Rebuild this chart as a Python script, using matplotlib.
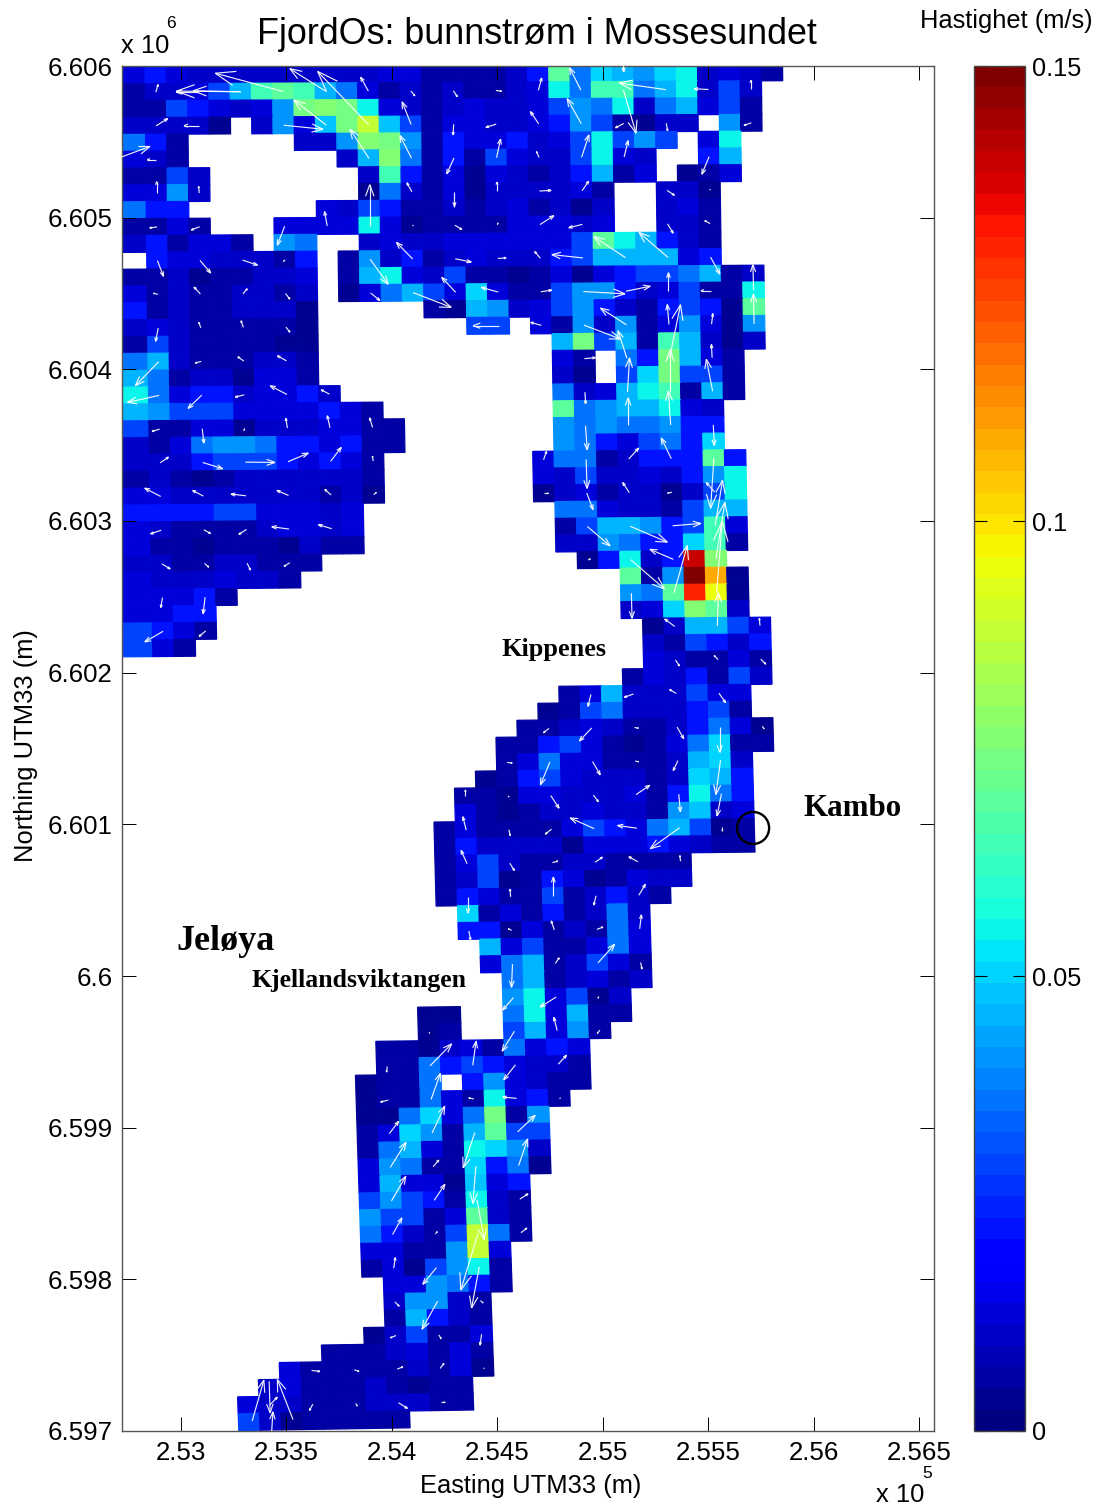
import numpy as np
import matplotlib
matplotlib.use('Agg')
import matplotlib.pyplot as plt
from matplotlib.collections import LineCollection
from matplotlib.patches import Ellipse

plt.rcParams['font.family'] = ['Liberation Sans', 'DejaVu Sans']

W, H = 1102, 1508

# speed levels, one char per cell, '.' = land. groups of ten columns
speed_rows = [
    "3432222222 2233111124 d6a87ab2321",
    "122358cdc8 6312121123 b6cc68b252",
    "11543237ef eb32123223 576b268351",
    "22220.2739 eh95133223 4751022.71",
    "641.....22 7fe7143342 35b575.3b",
    "321....... 28f6141532 25b32..48",
    "1152...... .2c4130321 24813.013",
    "3372...... .062130222 231..220",
    "644......3 2541121231 202..231",
    "1131...333 3b30111133 323..221",
    "241331.76. .232233333 35db8421",
    ".43322214. 1724123222 45888834",
    "112011223. 18b3251101 3034556812",
    "312112212. 036853a311 577423511b",
    "412112220. ....108723 574214540d",
    "232111110. ......55.3 1727137307",
    "152111100. .......... 8e581c8202",
    "682111221. .......... 31.64e831",
    "861220331. .......... 20.5ae551",
    "b634423342 .......... 6238bc181",
    "8755533334 31........ d6788b32",
    "5113302223 311....... 76766744",
    "2136776443 411....... 7643564a",
    "2224555434 31.......3 6612444d4",
    "1210122222 21.......3 25223247b",
    "3322222221 20.......0 23122025b",
    "4444553332 3......... 663221588",
    "3211112332 3......... 1588745c3",
    "3110111021 1......... 227644ac1",
    "221122111. .......... .04b24rf",
    "32223221.. .......... ...d17um0",
    "33341..... .......... ...76dqj0",
    "3344...... .......... ...23afd2",
    "5431...... .......... ....028853",
    "531....... .......... ....215424",
    ".......... .......... ....321131",
    ".......... .......... ...1324152",
    ".......... .......... 138222533",
    ".......... .........0 156222451",
    ".......... ........11 2321124630",
    ".......... .......114 5310136a11",
    ".......... .......136 3311128a2",
    ".......... ......0145 322212a84",
    ".......... .....11033 222314b64",
    ".......... .....31012 232217923",
    ".......... ....131111 354368501",
    ".......... ....142222 033343211",
    ".......... ....135211 221111",
    ".......... ....125014 301322",
    ".......... ....143115 12421",
    ".......... .....a1314 1262",
    ".......... .....44031 2163",
    ".......... ......8351 1363",
    ".......... ......3681 2531",
    ".......... .......681 2312",
    ".......... .......7b3 502",
    ".......... ...00..6b3 811",
    ".......... ...01..583 71",
    ".......... .110231634 3",
    ".......... .116454322 1",
    ".......... 0116.47321 1",
    ".......... 011631b341",
    ".......... 006a36e17",
    ".......... 13a718d55",
    ".......... 16831ba72",
    ".......... 37611a460",
    ".......... 38330934",
    ".......... 57541b21",
    ".......... 75513d21",
    ".......... 64215h61",
    ".......... 33117h3",
    ".......... 13057b1",
    ".......... .337641",
    ".......... .27721",
    ".......... .18421",
    ".......... 025113",
    "........11 123131",
    "......3111 112130",
    ".....23111 21011",
    "....322111 22211",
    "....520111 11",
]

# m/s for each level char
level_speed = {'0': 0.003, '1': 0.006, '2': 0.010, '3': 0.014, '4': 0.023, '5': 0.030,
               '6': 0.036, '7': 0.041, '8': 0.045, '9': 0.048, 'a': 0.050, 'b': 0.056,
               'c': 0.064, 'd': 0.069, 'e': 0.073, 'f': 0.077, 'h': 0.087, 'j': 0.096,
               'm': 0.108, 'q': 0.129, 'r': 0.140, 'u': 0.150}

# (col, row, east, north) of every second grid node, arrow lengths as read
arrows_north = [
    (23,-1,2,-47),
    (1,1,7,23),(3,1,-67,0),(5,1,-143,3),(5,1,-193,2),(7,1,-204,55),(9,1,-108,68),(11,1,-23,42),(13,1,12,-15),(15,1,12,-18),
    (17,1,17,-2),(19,1,10,37),(21,1,-34,67),(23,1,38,-130),(25,1,-140,20),(27,1,-43,2),(29,1,0,27),
    (1,3,35,22),(3,3,-44,0),(7,3,118,-12),(9,3,-97,75),(11,3,-153,160),(13,3,-27,68),(15,3,-2,-32),
    (17,3,-31,-10),(19,3,-25,37),(21,3,-42,75),(23,3,-25,-13),(25,3,4,-23),(29,3,-22,-8),
    (-1,5,108,40),(1,5,-27,0),(11,5,-57,88),(13,5,-35,68),(15,5,-22,-48),
    (17,5,12,56),(19,5,-8,18),(21,5,22,67),(23,5,12,49),(27,5,-22,-53),
    (1,7,0,35),(3,7,-2,20),(13,7,-15,27),(15,7,0,-45),(17,7,0,28),(19,7,35,2),(21,7,20,29),(25,7,22,-15),(27,7,2,2),
    (1,9,-22,-3),(3,9,-25,-10),(7,9,-22,-57),(9,9,-8,43),(11,9,0,123),(13,9,2,0),(15,9,21,-13),
    (17,9,2,6),(19,9,42,27),(21,9,-41,-10),(25,9,17,-28),(27,9,-16,9),
    (1,11,18,-47),(3,11,32,-38),(5,11,45,-15),(7,11,-5,-5),(11,11,54,-75),(13,11,-49,50),(15,11,48,-10),
    (17,11,25,2),(19,11,-17,20),(21,11,-93,10),(23,11,-95,63),(25,11,-87,75),(27,11,28,-51),
    (1,13,-13,3),(3,13,-19,21),(5,13,13,15),(7,13,13,-17),(11,13,28,-23),(13,13,114,-44),(15,13,-42,45),
    (17,13,-51,14),(19,13,33,5),(21,13,125,-7),(23,13,73,15),(25,13,0,55),(27,13,-30,0),(29,13,-2,77),
    (1,15,-8,-40),(3,15,-6,16),(5,15,-7,20),(7,15,12,-15),
    (17,15,-77,0),(19,15,-32,9),(21,15,110,-42),(23,15,-78,50),(25,15,-5,60),(27,15,4,32),(29,15,-2,90),
    (1,17,-70,-72),(3,17,-18,-5),(5,17,-18,13),(7,17,-27,15),
    (21,17,33,3),(23,17,-27,83),(25,17,33,160),(27,17,-2,40),
]

arrows_middle = [
    (1,19,-95,-21),(3,19,-41,-40),(5,19,-27,-7),(7,19,-50,26),(9,19,-25,13),
    (21,19,2,-35),(23,19,6,102),(25,19,0,125),(27,19,-19,96),
    (1,21,-23,-7),(3,21,5,-43),(5,21,-3,-6),(7,21,-5,30),(9,21,-8,36),(11,21,-9,29),
    (21,21,5,-72),(23,21,0,83),(25,21,-7,102),(27,21,3,-62),
    (1,23,25,17),(3,23,60,-19),(5,23,89,-1),(7,23,61,26),(9,23,32,42),(11,23,-2,15),
    (19,23,9,25),(21,23,3,-87),(23,23,30,33),(25,23,-30,62),(27,23,-10,-150),
    (1,25,-48,25),(3,25,-32,17),(5,25,-45,5),(7,25,-35,15),(9,25,-19,17),(11,25,8,7),
    (19,25,13,0),(21,25,19,-50),(23,25,-20,30),(25,25,-13,-3),(27,25,-25,28),
    (1,27,-32,-11),(3,27,20,-11),(5,27,-23,-15),(7,27,-52,7),(9,27,-40,12),
    (21,27,68,-58),(23,27,112,-48),(25,27,85,7),(27,27,22,135),
    (1,29,25,-15),(3,29,13,-11),(5,29,10,-21),(7,29,-17,-11),
    (21,29,7,4),(23,29,102,-88),(25,29,-70,30),(27,29,27,170),
    (1,31,-5,-30),(3,31,-6,-50),(23,31,2,-75),(25,31,40,142),(27,31,17,214),
    (1,33,-55,-32),(3,33,-20,-17),(25,33,-30,22),(27,33,3,100),(29,33,-2,22),
    (25,35,12,-18),(27,35,-12,12),(29,35,15,-15),
    (21,37,-9,-36),(23,37,-28,-10),(25,37,-20,12),(27,37,20,-29),
    (19,39,-17,-13),(21,39,-37,-39),(23,39,12,-2),(25,39,20,-35),(27,39,0,-77),(29,39,5,-8),
    (17,41,15,-2),(19,41,-28,-68),(21,41,23,-40),(23,41,10,-2),(25,41,-14,-30),(27,41,-14,-103),
    (15,43,0,20),(17,43,3,-3),(19,43,25,-38),(21,43,15,-20),(23,43,41,28),(25,43,5,-53),(27,43,-13,-67),
    (15,45,-10,40),(17,45,4,-18),(19,45,-19,-15),(21,45,-72,32),(23,45,-58,8),(25,45,-88,-63),(27,45,0,-10),
    (15,47,-18,40),(17,47,14,-22),(19,47,16,5),(21,47,22,15),(23,47,-27,15),(25,47,-2,17),
    (15,49,0,-47),(17,49,-2,23),(19,49,0,58),(21,49,-7,-28),(23,49,20,33),
    (15,51,5,-27),(17,51,-10,5),(19,51,-9,27),(21,51,18,7),(23,51,5,42),
    (17,53,-3,-70),(19,53,12,17),(21,53,50,56),(23,53,4,-20),
    (17,55,-32,-37),(19,55,-48,-30),(21,55,-3,-5),
]

arrows_south = [
    (13,57,2,-3),(17,57,-37,-60),(19,57,-10,40),(21,57,-8,-10),
    (11,59,-2,-17),(13,59,65,66),(15,59,10,72),(17,59,-35,-45),(19,59,25,27),
    (11,61,-23,-6),(13,61,28,78),(15,61,-15,3),(17,61,-41,4),(19,61,3,0),
    (11,63,28,37),(13,63,38,81),(15,63,-35,-106),(17,63,53,50),
    (11,65,47,75),(13,65,17,20),(15,65,-9,-112),(17,65,27,80),
    (11,67,43,74),(13,67,32,48),(15,67,22,-120),(17,67,25,16),
    (11,69,28,50),(13,69,6,7),(15,69,-52,-170),(17,69,18,14),
    (11,71,5,32),(13,71,-41,-50),(15,71,-23,-123),
    (11,73,13,-13),(13,73,-47,-84),(15,73,8,-7),
    (11,75,-17,-7),(13,75,7,-12),(15,75,-5,-33),
    (7,77,25,-3),(9,77,14,-5),(11,77,17,7),(13,77,12,15),(15,77,2,0),
    (5,79,22,23),(7,79,-10,-19),(9,79,5,-8),(11,79,27,-17),(13,79,10,0),
    (4.14,79.95,35,123),(6.05,79.9,-47,120),(5,81,5,80),(5,77.6,3,-95),
]

x_ticks = [253000, 253500, 254000, 254500, 255000, 255500, 256000, 256500]
x_labels = ['2.53', '2.535', '2.54', '2.545', '2.55', '2.555', '2.56', '2.565']
y_ticks = [6597000, 6598000, 6599000, 6600000, 6601000, 6602000, 6603000, 6604000, 6605000, 6606000]
y_labels = ['6.597', '6.598', '6.599', '6.6', '6.601', '6.602', '6.603', '6.604', '6.605', '6.606']
bar_ticks = [0, 0.05, 0.1, 0.15]
bar_labels = ['0', '0.05', '0.1', '0.15']

x_lim = (252720, 256571)
y_lim = (6597000, 6606000)

place_names = [('Kippenes', 502, 656, 18.9), ('Kambo', 804, 816, 22.3),
               ('Jeløya', 176, 950, 26), ('Kjellandsviktangen', 252, 987, 18.5)]


def grid_node(i, j):
    # the model grid is slightly curved and rotated in UTM
    east = 252728.3 + 100.78 * i + (0.569 + 0.0095 * i) * j + 0.01423 * j ** 2
    north = 6605993 - 111.1 * j + (0.66 + 0.0198 * j) * i
    return east, north


def px_axes(left, top, right, bottom):
    return [left / W, 1 - bottom / H, (right - left) / W, (bottom - top) / H]


rows = [r.replace(' ', '') for r in speed_rows]
ncols = max(len(r) for r in rows)
speed = np.full((len(rows), ncols), np.nan)
for j, r in enumerate(rows):
    for i, ch in enumerate(r):
        if ch != '.':
            speed[j, i] = level_speed[ch]
speed = np.ma.masked_invalid(speed)

jj, ii = np.meshgrid(np.arange(len(rows) + 1), np.arange(ncols + 1), indexing='ij')
X, Y = grid_node(ii, jj)
X[:, 0] = x_lim[0]  # first column runs out to the frame

fig = plt.figure(figsize=(W / 100, H / 100), dpi=100)
ax = fig.add_axes(px_axes(122, 66, 934, 1431))
cmap = plt.get_cmap('jet', 64)
mesh = ax.pcolormesh(X, Y, speed, cmap=cmap, vmin=0, vmax=0.15, edgecolors='face', linewidth=0.9, antialiased=True)
mesh.set_snap(False)

# quiver with open heads, lengths are in thirds of a pixel
mx = (x_lim[1] - x_lim[0]) / (812 * 3)
my = (y_lim[1] - y_lim[0]) / (1365 * 3)
segs = []
ang = np.radians(20)
for col, row, u, v in arrows_north + arrows_middle + arrows_south:
    tx, ty = grid_node(col + 0.5, row + 0.5)
    hx, hy = tx + u * mx, ty + v * my
    segs.append([(tx, ty), (hx, hy)])
    for sgn in (-1, 1):
        bu = 0.3 * (u * np.cos(sgn * ang) - v * np.sin(sgn * ang))
        bv = 0.3 * (u * np.sin(sgn * ang) + v * np.cos(sgn * ang))
        segs.append([(hx - bu * mx, hy - bv * my), (hx, hy)])
ax.add_collection(LineCollection(segs, colors='white', linewidths=0.85, alpha=0.92, zorder=3))

ax.add_patch(Ellipse((255713, 6600976), 152, 211, fill=False, edgecolor='black', linewidth=1.7, zorder=4))

ax.set_xlim(x_lim)
ax.set_ylim(y_lim)
ax.set_xticks(x_ticks, x_labels)
ax.set_yticks(y_ticks, y_labels)
ax.tick_params(direction='in', length=10, width=0.7, top=True, right=True, labelsize=18.6, pad=7)
for s in ax.spines.values():
    s.set_color('#555555')
    s.set_linewidth(1.0)
ax.set_xlabel('Easting UTM33 (m)', fontsize=18.4, labelpad=7, x=0.503)
ax.set_ylabel('Northing UTM33 (m)', fontsize=18.4)
ax.yaxis.set_label_coords(-0.103, 0.502)

cax = fig.add_axes(px_axes(974, 66, 1025, 1431))
cb = fig.colorbar(mesh, cax=cax)
cb.set_ticks(bar_ticks, labels=bar_labels)
cb.outline.set_edgecolor('#444444')
cb.outline.set_linewidth(1.0)
cax.tick_params(direction='in', length=9, width=0.8, left=True, right=True, labelsize=18.3, pad=5)

fig.text(537 / W, 1 - 34 / H, 'FjordOs: bunnstrøm i Mossesundet', fontsize=25.8, ha='center', va='center')
fig.text(1006 / W, 1 - 21 / H, 'Hastighet (m/s)', fontsize=18.4, ha='center', va='center')
fig.text(121 / W, 1 - 46 / H, 'x 10', fontsize=18.4, ha='left', va='center')
fig.text(166 / W, 1 - 24 / H, '6', fontsize=12.5, ha='left', va='center')
fig.text(876 / W, 1 - 1495 / H, 'x 10', fontsize=18.4, ha='left', va='center')
fig.text(922 / W, 1 - 1473 / H, '5', fontsize=12.5, ha='left', va='center')

for name, px, py, size in place_names:
    fig.text(px / W, 1 - py / H, name, family='Liberation Serif', weight='bold', fontsize=size, ha='left', va='baseline')

fig.savefig('out.png', dpi=100)
